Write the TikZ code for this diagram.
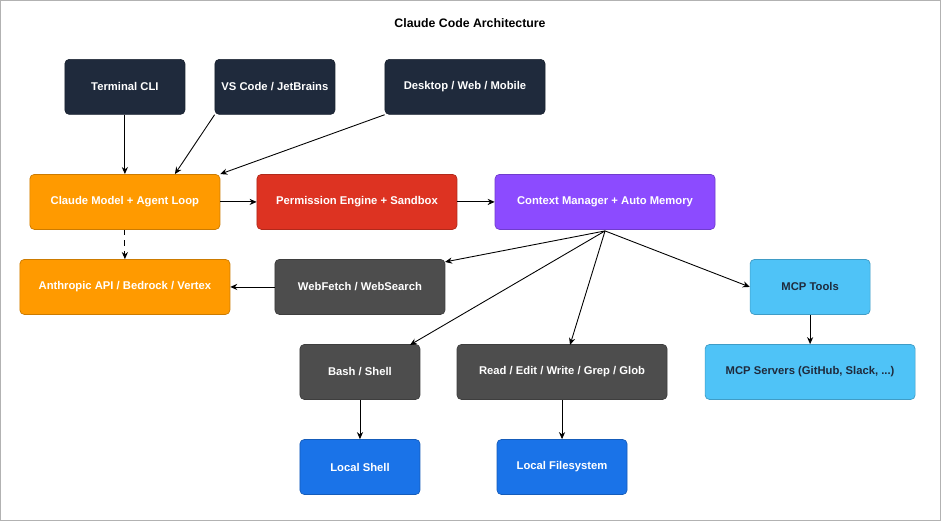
\documentclass[tikz,border=0pt]{standalone}
\usepackage{fontspec}
\setmainfont{Liberation Sans}
\usetikzlibrary{arrows.meta}
\definecolor{clinavy}{HTML}{1F2A3C}
\definecolor{cloudorange}{HTML}{FF9A00}
\definecolor{permred}{HTML}{DD3322}
\definecolor{ctxpurple}{HTML}{8C4BFF}
\definecolor{toolgray}{HTML}{4D4D4D}
\definecolor{mcpblue}{HTML}{4FC3F7}
\definecolor{localblue}{HTML}{1A73E8}
\tikzset{
  box/.style={draw=#1!80!black,fill=#1,rounded corners=2.5pt,
    text=white,font=\fontsize{6.4}{8}\selectfont\bfseries,
    inner sep=0pt,minimum height=1.1cm},
  wire/.style={-{Stealth[length=4pt,width=3.5pt]},line width=0.5pt}
}
\begin{document}
\begin{tikzpicture}[x=0.02cm,y=-0.02cm]
    % Background
    \draw[gray!60,fill=white] (0.5,0.5) rectangle (940.5,520.5);
    \node[font=\fontsize{7}{8}\selectfont\bfseries] (title) at (470,23)
      {Claude Code Architecture};
    % Clients
    \node[box=clinavy,minimum width=2.4cm] (cli) at (125,87) {Terminal CLI};
    \node[box=clinavy,minimum width=2.4cm] (ide) at (275,87) {VS Code / JetBrains};
    \node[box=clinavy,minimum width=3.2cm] (app) at (465,87) {Desktop / Web / Mobile};
    % Core
    \node[box=cloudorange,minimum width=3.8cm] (agent) at (125,202) {Claude Model + Agent Loop};
    \node[box=permred,minimum width=4cm] (perm) at (357,202) {Permission Engine + Sandbox};
    \node[box=ctxpurple,minimum width=4.4cm] (ctx) at (605,202) {Context Manager + Auto Memory};
    \node[box=cloudorange,minimum width=4.2cm] (api) at (125,287) {Anthropic API / Bedrock / Vertex};
    % Tools
    \node[box=toolgray,minimum width=3.4cm] (web) at (360,287) {WebFetch / WebSearch};
    \node[box=mcpblue,text=clinavy,minimum width=2.4cm] (mcp) at (810,287) {MCP Tools};
    \node[box=toolgray,minimum width=2.4cm] (bash) at (360,372) {Bash / Shell};
    \node[box=toolgray,minimum width=4.2cm] (files) at (562,372) {Read / Edit / Write / Grep / Glob};
    \node[box=mcpblue,text=clinavy,minimum width=4.2cm] (servers) at (810,372) {MCP Servers (GitHub, Slack, ...)};
    \node[box=localblue,minimum width=2.4cm] (shell) at (360,467) {Local Shell};
    \node[box=localblue,minimum width=2.6cm] (fs) at (562,467) {Local Filesystem};
    % Wires
    \draw[wire] (cli) -- (agent);
    \draw[wire] (ide.south west) -- (agent.north east -| 175,0);
    \draw[wire] (app.south west) -- (agent.north east);
    \draw[wire] (agent) -- (perm);
    \draw[wire] (perm) -- (ctx);
    \draw[wire,dashed] (agent) -- (api);
    \draw[wire] (web) -- (api);
    \coordinate (fan) at (605,231);
    \draw[wire] (fan) -- (445,262);
    \draw[wire] (fan) -- (410,345);
    \draw[wire] (fan) -- (570,345);
    \draw[wire] (fan) -- (mcp.west);
    \draw[wire] (mcp) -- (servers);
    \draw[wire] (bash) -- (shell);
    \draw[wire] (files) -- (fs);
\end{tikzpicture}
\end{document}
